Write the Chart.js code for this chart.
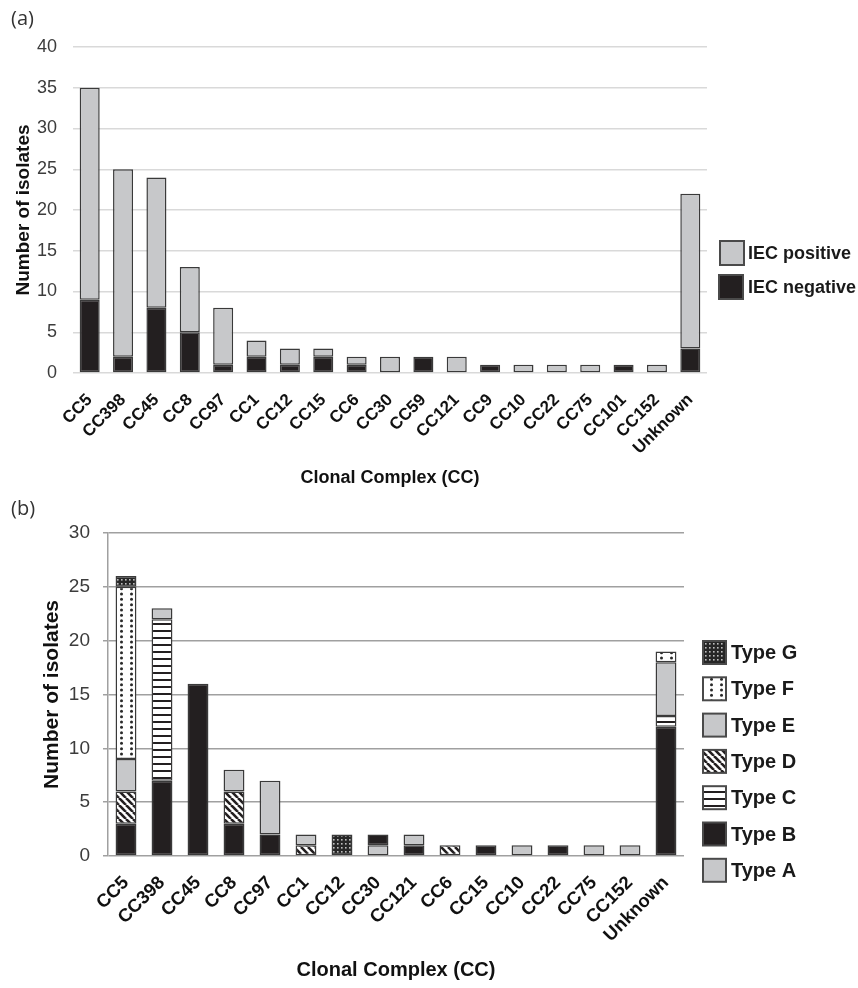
<!DOCTYPE html>
<html>
<head>
<meta charset="utf-8">
<script src="https://cdn.jsdelivr.net/npm/chart.js@4.4.1/dist/chart.umd.min.js"></script>
<style>
  html, body { margin: 0; padding: 0; background: #fff; }
  body { position: relative; width: 858px; height: 988px; overflow: hidden; font-family: Arial, "Liberation Sans", sans-serif; }
  canvas { position: absolute; left: 0; }
  #chartA { top: 0; }
  #chartB { top: 490px; }
  .panel-tag { position: absolute; left: 11px; font-size: 20px; color: #333; font-family: "Open Sans", "Liberation Sans", sans-serif; }
</style>
</head>
<body>
<canvas id="chartA" width="858" height="490"></canvas>
<canvas id="chartB" width="858" height="498"></canvas>
<div class="panel-tag" style="top:4px;">(a)</div>
<div class="panel-tag" style="top:494px;">(b)</div>
<script>
// ---- data: panel (a) ----
const ccA = ['CC5', 'CC398', 'CC45', 'CC8', 'CC97', 'CC1', 'CC12', 'CC15', 'CC6', 'CC30',
  'CC59', 'CC121', 'CC9', 'CC10', 'CC22', 'CC75', 'CC101', 'CC152', 'Unknown'];
const iecNegative = [9, 2, 8, 5, 1, 2, 1, 2, 1, 0, 2, 0, 1, 0, 0, 0, 1, 0, 3];
const iecPositive = [26, 23, 16, 8, 7, 2, 2, 1, 1, 2, 0, 2, 0, 1, 1, 1, 0, 1, 19];
const yMaxA = 40;
const yStepA = 5;

// ---- data: panel (b) ----
const ccB = ['CC5', 'CC398', 'CC45', 'CC8', 'CC97', 'CC1', 'CC12', 'CC30', 'CC121', 'CC6',
  'CC15', 'CC10', 'CC22', 'CC75', 'CC152', 'Unknown'];
const typeA = [0, 0, 0, 0, 0, 0, 0, 1, 0, 0, 0, 1, 0, 1, 1, 0];
const typeB = [3, 7, 16, 3, 2, 0, 0, 1, 1, 0, 1, 0, 1, 0, 0, 12];
const typeC = [0, 15, 0, 0, 0, 0, 0, 0, 0, 0, 0, 0, 0, 0, 0, 1];
const typeD = [3, 0, 0, 3, 0, 1, 0, 0, 0, 1, 0, 0, 0, 0, 0, 0];
const typeE = [3, 1, 0, 2, 5, 1, 0, 0, 1, 0, 0, 0, 0, 0, 0, 5];
const typeF = [16, 0, 0, 0, 0, 0, 0, 0, 0, 0, 0, 0, 0, 0, 0, 1];
const typeG = [1, 0, 0, 0, 0, 0, 2, 0, 0, 0, 0, 0, 0, 0, 0, 0];
const yMaxB = 30;
const yStepB = 5;

const GREY = '#c7c8ca';
const BLACK = '#231f20';
const EDGE = '#3a3a3a';
const FONT = 'Arial, "Liberation Sans", sans-serif';

// small helper to build a repeating fill from a tile
function makePattern(w, h, paint) {
  const tile = document.createElement('canvas');
  tile.width = w;
  tile.height = h;
  const g = tile.getContext('2d');
  paint(g, w, h);
  return g.createPattern(tile, 'repeat');
}

const stripesDiag = makePattern(7, 7, (g, w, h) => {
  g.fillStyle = '#fff';
  g.fillRect(0, 0, w, h);
  g.strokeStyle = BLACK;
  g.lineWidth = 2.6;
  [-w, 0, w].forEach((o) => {
    g.beginPath();
    g.moveTo(o, 0);
    g.lineTo(o + w, h);
    g.stroke();
  });
});

const stripesHoriz = makePattern(4, 7, (g, w, h) => {
  g.fillStyle = '#fff';
  g.fillRect(0, 0, w, h);
  g.fillStyle = BLACK;
  g.fillRect(0, 0, w, 2);
});

const dots = makePattern(10, 16, (g, w, h) => {
  g.fillStyle = '#fff';
  g.fillRect(0, 0, w, h);
  g.fillStyle = '#2a2a2a';
  [2.7, 8, 13.3].forEach((y) => {
    g.beginPath();
    g.arc(1.5, y, 1.5, 0, Math.PI * 2);
    g.fill();
  });
});

const fineGrid = makePattern(4, 4, (g, w, h) => {
  g.fillStyle = '#262626';
  g.fillRect(0, 0, w, h);
  g.fillStyle = '#bdbdbd';
  g.fillRect(1, 1, 1.6, 1.6);
});

// legend drawn at fixed spots, using each dataset's own fill and label
const fixedLegend = {
  id: 'fixedLegend',
  afterDraw(chart, args, opts) {
    const ctx = chart.ctx;
    ctx.save();
    opts.items.forEach((item) => {
      const ds = chart.data.datasets[item.index];
      ctx.fillStyle = '#4a4a4a';
      ctx.fillRect(item.x, item.y, opts.box, opts.box);
      ctx.fillStyle = ds.backgroundColor;
      ctx.fillRect(item.x + 2, item.y + 2, opts.box - 4, opts.box - 4);
      ctx.fillStyle = '#1a1a1a';
      ctx.font = opts.font;
      ctx.textBaseline = 'middle';
      ctx.textAlign = 'left';
      ctx.fillText(ds.label, item.textX, item.y + opts.box / 2 + 1);
    });
    ctx.restore();
  }
};

function barSet(label, data, fill, pct) {
  return {
    label: label,
    data: data,
    backgroundColor: fill,
    borderColor: EDGE,
    borderWidth: 1.5,
    borderSkipped: false,
    barPercentage: pct,
    categoryPercentage: 1
  };
}

function scalesFor(o) {
  return {
    x: {
      stacked: true,
      grid: { display: false },
      border: { display: false },
      ticks: {
        autoSkip: false,
        maxRotation: 45,
        minRotation: 45,
        padding: o.xPad,
        color: '#111',
        font: { family: FONT, size: o.xFont, weight: 'bold', lineHeight: 1.2 }
      },
      title: {
        display: true,
        text: 'Clonal Complex (CC)',
        color: '#111',
        padding: { top: 0, bottom: o.xTitlePad },
        font: { family: FONT, size: o.xTitleFont, weight: 'bold', lineHeight: 1.2 }
      },
      afterFit: (scale) => { scale.height = o.xHeight; }
    },
    y: {
      stacked: true,
      min: 0,
      max: o.yMax,
      grid: { color: o.gridColor, lineWidth: o.gridWidth, drawTicks: o.tickLen > 0, tickLength: o.tickLen },
      border: { display: o.yBorder, color: o.gridColor, width: o.gridWidth },
      ticks: {
        stepSize: o.yStep,
        padding: o.yPad,
        color: '#3c3c3c',
        font: { family: FONT, size: o.yFont }
      },
      title: {
        display: true,
        text: 'Number of isolates',
        color: '#111',
        padding: { top: 4, bottom: 0 },
        font: { family: FONT, size: o.yTitleFont, weight: 'bold', lineHeight: 1.2 }
      },
      afterFit: (scale) => { scale.width = o.yWidth; }
    }
  };
}

// ---- panel (a) ----
new Chart(document.getElementById('chartA'), {
  type: 'bar',
  data: {
    labels: ccA,
    datasets: [
      barSet('IEC negative', iecNegative, BLACK, 0.6),
      barSet('IEC positive', iecPositive, GREY, 0.6)
    ]
  },
  options: {
    responsive: false,
    animation: false,
    devicePixelRatio: 1,
    layout: { padding: { left: 8, top: 47, right: 151, bottom: 0 } },
    scales: scalesFor({
      xPad: 9, xFont: 17, xTitleFont: 18, xTitlePad: 1, xHeight: 117,
      yMax: yMaxA, yStep: yStepA, gridColor: '#d9d9d9', gridWidth: 1.5, tickLen: 0,
      yBorder: false, yPad: 16, yFont: 18, yTitleFont: 19, yWidth: 65
    }),
    plugins: {
      legend: { display: false },
      tooltip: { enabled: false },
      fixedLegend: {
        box: 26,
        font: 'bold 18px ' + FONT,
        items: [
          { index: 1, x: 719, y: 240, textX: 748 },
          { index: 0, x: 718, y: 274, textX: 748 }
        ]
      }
    }
  },
  plugins: [fixedLegend]
});

// ---- panel (b) ----
new Chart(document.getElementById('chartB'), {
  type: 'bar',
  data: {
    labels: ccB,
    datasets: [
      barSet('Type A', typeA, GREY, 0.58),
      barSet('Type B', typeB, BLACK, 0.58),
      barSet('Type C', typeC, stripesHoriz, 0.58),
      barSet('Type D', typeD, stripesDiag, 0.58),
      barSet('Type E', typeE, GREY, 0.58),
      barSet('Type F', typeF, dots, 0.58),
      barSet('Type G', typeG, fineGrid, 0.58)
    ]
  },
  options: {
    responsive: false,
    animation: false,
    devicePixelRatio: 1,
    layout: { padding: { left: 36, top: 43, right: 174, bottom: 4 } },
    scales: scalesFor({
      xPad: 8, xFont: 18.5, xTitleFont: 20, xTitlePad: 2, xHeight: 128,
      yMax: yMaxB, yStep: yStepB, gridColor: '#a0a0a0', gridWidth: 1.5, tickLen: 5,
      yBorder: true, yPad: 13, yFont: 19, yTitleFont: 21, yWidth: 72
    }),
    plugins: {
      legend: { display: false },
      tooltip: { enabled: false },
      fixedLegend: {
        box: 25,
        font: 'bold 20px ' + FONT,
        items: [6, 5, 4, 3, 2, 1, 0].map((idx, k) => ({
          index: idx, x: 702, y: 150 + k * 36.3, textX: 731
        }))
      }
    }
  },
  plugins: [fixedLegend]
});
</script>
</body>
</html>
